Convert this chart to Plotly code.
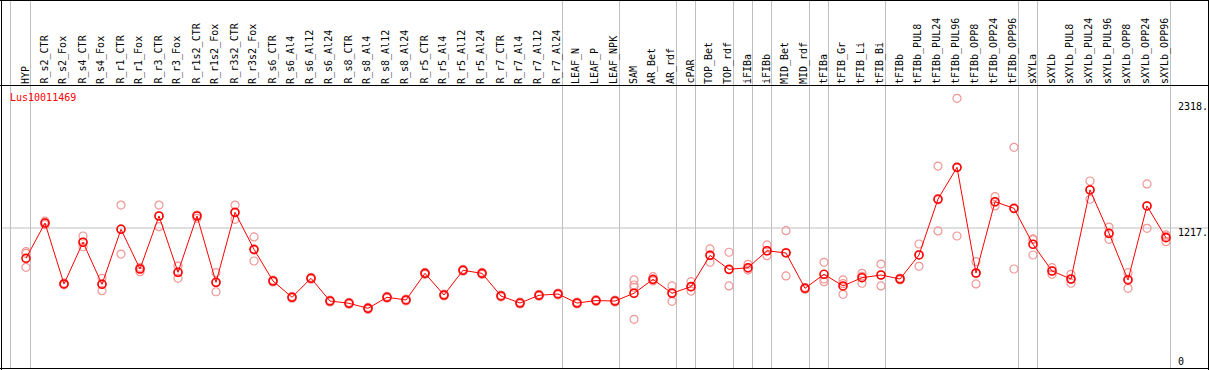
import plotly.graph_objects as go

# ---------------- data ----------------
categories = [
    "HYP", "R_s2_CTR", "R_s2_Fox", "R_s4_CTR", "R_s4_Fox", "R_r1_CTR", "R_r1_Fox",
    "R_r3_CTR", "R_r3_Fox", "R_r1s2_CTR", "R_r1s2_Fox", "R_r3s2_CTR", "R_r3s2_Fox",
    "R_s6_CTR", "R_s6_Al4", "R_s6_Al12", "R_s6_Al24", "R_s8_CTR", "R_s8_Al4",
    "R_s8_Al12", "R_s8_Al24", "R_r5_CTR", "R_r5_Al4", "R_r5_Al12", "R_r5_Al24",
    "R_r7_CTR", "R_r7_Al4", "R_r7_Al12", "R_r7_Al24", "LEAF_N", "LEAF_P", "LEAF_NPK",
    "SAM", "AR_Bet", "AR_rdf", "cPAR", "TOP_Bet", "TOP_rdf", "iFIBa", "iFIBb",
    "MID_Bet", "MID_rdf", "tFIBa", "tFIB_Gr", "tFIB_Li", "tFIB_Bi", "tFIBb",
    "tFIBb_PUL8", "tFIBb_PUL24", "tFIBb_PUL96", "tFIBb_OPP8", "tFIBb_OPP24",
    "tFIBb_OPP96", "sXYLa", "sXYLb", "sXYLb_PUL8", "sXYLb_PUL24", "sXYLb_PUL96",
    "sXYLb_OPP8", "sXYLb_OPP24", "sXYLb_OPP96",
]

mean_values = [
    960, 1259, 742, 1096, 739, 1206, 869, 1319, 841, 1319,
    756, 1350, 1036, 767, 629, 790, 597, 578, 535, 629,
    606, 832, 648, 858, 832, 640, 580, 646, 657, 580,
    601, 597, 663, 781, 663, 719, 985, 866, 880, 1024,
    1005, 705, 824, 725, 795, 818, 784, 988, 1463, 1732,
    835, 1440, 1384, 1079, 852, 784, 1540, 1172, 776, 1404, 1135,
]

rep_1 = [
    1016, 1275, 750, 1149, 790, 1412, 883, 1412, 894, 1327,
    838, 1412, 1141, 775, 637, 798, 605, 586, 543, 637,
    614, 840, 656, 866, 840, 648, 588, 654, 665, 588,
    609, 605, 776, 804, 725, 761, 1039, 1011, 909, 1073,
    1194, 713, 926, 776, 832, 911, 792, 1081, 1743, 2318,
    931, 1483, 1902, 1124, 880, 824, 1616, 1225, 838, 1591, 1158,
]
rep_2 = [
    1002, 1262, 742, 1096, 742, 1209, 869, 1319, 838, 1323,
    753, 1347, 1030, 767, 629, 790, 597, 578, 535, 629,
    606, 832, 648, 858, 832, 640, 580, 646, 657, 580,
    601, 597, 733, 776, 668, 716, 988, 863, 873, 1022,
    1011, 705, 784, 744, 807, 818, 784, 990, 1455, 1730,
    832, 1435, 1381, 1119, 852, 781, 1542, 1169, 784, 1406, 1147,
]
rep_3 = [
    883, 1245, 735, 1058, 685, 996, 846, 1228, 790, 1299,
    676, 1291, 937, 759, 621, 782, 589, 570, 527, 621,
    598, 824, 640, 850, 824, 632, 572, 638, 649, 572,
    593, 589, 714, 768, 595, 682, 926, 725, 860, 982,
    810, 697, 761, 654, 748, 725, 776, 892, 1192, 1149,
    742, 1404, 869, 988, 824, 748, 1461, 1121, 705, 1214, 1101,
]
rep_4 = [None] * 32 + [442] + [None] * 28   # SAM has a fourth replicate

gene_name = "Lus10011469"
axis_ticks = [2318, 1217, 0]
axis_tick_text = ["2318.", "1217.", "0"]

# groups separators: after these (1-based) columns
separator_after = [1, 29, 32, 35, 36, 38, 39, 40, 42, 43, 46, 53, 54, 61]

# ---------------- layout helpers ----------------
W, H = 1209, 370
STEP = 19.0          # px per category
X0_PX = 26.0         # px of first category
Y_LO, Y_HI = 11.6, 3152.5

def px_x(p):
    return p / W

def px_y(p):
    return 1 - p / H

def val_to_py(v):
    return H - (v - Y_LO) / (Y_HI - Y_LO) * H

FONT = "DejaVu Sans Mono"
RED = "#ff0000"
PINK = "rgb(240,150,150)"
GRAY = "#c0c0c0"

xs = list(range(len(categories)))

fig = go.Figure()

for reps in (rep_1, rep_2, rep_3, rep_4):
    fig.add_trace(go.Scatter(
        x=xs, y=reps, mode="markers",
        marker=dict(symbol="circle-open", size=8, color=PINK, line=dict(width=1.2, color=PINK)),
        hoverinfo="skip", showlegend=False,
    ))

fig.add_trace(go.Scatter(
    x=xs, y=mean_values, mode="lines+markers",
    line=dict(color=RED, width=1),
    marker=dict(symbol="circle-open", size=8, color=RED, line=dict(width=1.6, color=RED)),
    showlegend=False,
))

shapes = []
# left gray line
sep_x = [-15.5 / STEP] + [(c - 1) + 4.5 / STEP for c in separator_after]
for sx in sep_x:
    shapes.append(dict(type="line", xref="x", yref="paper", x0=sx, x1=sx,
                       y0=px_y(369), y1=1, line=dict(color=GRAY, width=1), layer="below"))
# horizontal gray reference line
shapes.append(dict(type="line", xref="paper", yref="y", x0=px_x(1), x1=px_x(1208),
                   y0=axis_ticks[1], y1=axis_ticks[1], line=dict(color=GRAY, width=1), layer="below"))
# black frame & header separator
black = dict(color="black", width=1)
shapes += [
    dict(type="line", xref="paper", yref="paper", x0=px_x(1.5), x1=px_x(1.5), y0=0, y1=1, line=black),
    dict(type="line", xref="paper", yref="paper", x0=px_x(1208.5), x1=px_x(1208.5), y0=0, y1=1, line=black),
    dict(type="line", xref="paper", yref="paper", x0=0, x1=1, y0=px_y(0.5), y1=px_y(0.5), line=black),
    dict(type="line", xref="paper", yref="paper", x0=0, x1=1, y0=px_y(368.5), y1=px_y(368.5), line=black),
    dict(type="line", xref="paper", yref="paper", x0=0, x1=1, y0=px_y(85.5), y1=px_y(85.5), line=black),
]

annotations = []
for i, name in enumerate(categories):
    annotations.append(dict(
        text=name, x=i - 1.0 / STEP, xref="x", y=px_y(85), yref="paper",
        xanchor="center", yanchor="bottom", textangle=-90, showarrow=False,
        font=dict(family=FONT, size=10, color="black"), borderpad=0,
    ))

annotations.append(dict(
    text=gene_name, x=px_x(8.5), y=px_y(97), xref="paper", yref="paper",
    xanchor="left", yanchor="middle", showarrow=False,
    font=dict(family=FONT, size=10, color=RED), borderpad=0,
))

tick_py = [107, 232.5, 361.5]
for t, py in zip(axis_tick_text, tick_py):
    annotations.append(dict(
        text=t, x=px_x(1177), y=px_y(py), xref="paper", yref="paper",
        xanchor="left", yanchor="middle", showarrow=False,
        font=dict(family=FONT, size=10, color="black"), borderpad=0,
    ))

fig.update_layout(
    width=W, height=H, autosize=False,
    margin=dict(l=0, r=0, t=0, b=0, pad=0),
    paper_bgcolor="white", plot_bgcolor="white",
    xaxis=dict(range=[-X0_PX / STEP, -X0_PX / STEP + W / STEP], visible=False, fixedrange=True),
    yaxis=dict(range=[Y_LO, Y_HI], visible=False, fixedrange=True),
    shapes=shapes, annotations=annotations, showlegend=False,
)

fig.write_html("out.html", config={"displayModeBar": False},
               post_script="document.body.style.margin='0';")
